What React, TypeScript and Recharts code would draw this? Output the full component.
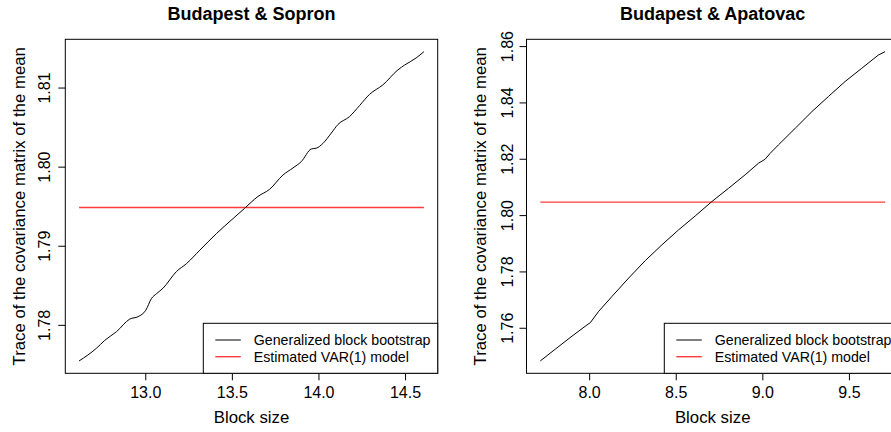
import React from "react";
import { LineChart, Line, XAxis, YAxis, Label } from "recharts";

// Budapest & Sopron
const sopronBlockSize = [
  12.615, 12.715, 12.763, 12.831, 12.908, 12.956, 13.0, 13.033, 13.062, 13.1,
  13.177, 13.235, 13.312, 13.408, 13.504, 13.571, 13.648, 13.715, 13.792, 13.85,
  13.898, 13.956, 13.985, 14.023, 14.071, 14.11, 14.177, 14.235, 14.292, 14.369,
  14.456, 14.494, 14.561, 14.606,
];
const sopronTrace = [
  1.7755, 1.7771, 1.7781, 1.7792, 1.7808, 1.7811, 1.7819, 1.7834, 1.784, 1.7847,
  1.7868, 1.7878, 1.7895, 1.7916, 1.7935, 1.7948, 1.7963, 1.7972, 1.799, 1.7999,
  1.8007, 1.8023, 1.8024, 1.803, 1.8043, 1.8054, 1.8064, 1.8078, 1.8092, 1.8104,
  1.8123, 1.8129, 1.8138, 1.8146,
];
const sopronVar = 1.7949;
const sopronXTicks = [13.0, 13.5, 14.0, 14.5];
const sopronYTicks = [1.78, 1.79, 1.8, 1.81];

// Budapest & Apatovac
const apatovacBlockSize = [
  7.715, 7.802, 7.898, 7.985, 8.004, 8.052, 8.129, 8.225, 8.321, 8.417, 8.513,
  8.61, 8.706, 8.802, 8.898, 8.975, 9.013, 9.042, 9.09, 9.187, 9.283, 9.379,
  9.475, 9.571, 9.667, 9.706,
];
const apatovacTrace = [
  1.7484, 1.7526, 1.7572, 1.7612, 1.762, 1.766, 1.7713, 1.7778, 1.784, 1.7896,
  1.7949, 1.7999, 1.805, 1.8097, 1.8145, 1.8186, 1.82, 1.8221, 1.8251, 1.831,
  1.8369, 1.8423, 1.8476, 1.8523, 1.857, 1.8582,
];
const apatovacVar = 1.8048;
const apatovacXTicks = [8.0, 8.5, 9.0, 9.5];
const apatovacYTicks = [1.76, 1.78, 1.8, 1.82, 1.84, 1.86];

const seriesNames = ["Generalized block bootstrap", "Estimated VAR(1) model"];

const FONT = '"Liberation Sans", Arial, Helvetica, sans-serif';
const HEIGHT = 432;
const PLOT_TOP = 39.3;
const PLOT_BOTTOM = 373.3;
const PLOT_WIDTH = 372.4;
const VAR_RED = "#ff3b3b";

// R default axis style: 4% padding around the data range
const padded = (vals: number[]): [number, number] => {
  const lo = Math.min(...vals);
  const hi = Math.max(...vals);
  const p = (hi - lo) * 0.04;
  return [lo - p, hi + p];
};

interface PanelProps {
  title: string;
  blockSize: number[];
  trace: number[];
  varValue: number;
  xTicks: number[];
  yTicks: number[];
  left: number;
  width: number;
  plotLeft: number;
  tickGap: number;
  yTitleX: number;
  legendLeft: number;
  curve: "monotone" | "linear";
}

function Panel(props: PanelProps) {
  const { title, blockSize, trace, varValue, xTicks, yTicks, left, width, plotLeft, tickGap, yTitleX, legendLeft, curve } = props;
  const data = blockSize.map((x, i) => ({ x, y: trace[i] }));
  const varData = [
    { x: blockSize[0], v: varValue },
    { x: blockSize[blockSize.length - 1], v: varValue },
  ];
  const plotRight = plotLeft + PLOT_WIDTH;
  const cx = plotLeft + PLOT_WIDTH / 2;

  const xTick = ({ x, y, payload }: any) => (
    <text x={x} y={y + 15.4} textAnchor="middle" fontSize={16} fontFamily={FONT} fill="#000">
      {payload.value.toFixed(1)}
    </text>
  );
  const yTick = ({ y, payload }: any) => (
    <text
      transform={`translate(${plotLeft - tickGap},${y}) rotate(-90)`}
      textAnchor="middle"
      fontSize={16}
      fontFamily={FONT}
      fill="#000"
    >
      {payload.value.toFixed(2)}
    </text>
  );

  return (
    <div style={{ position: "absolute", left, top: 0, width, height: HEIGHT }}>
      <LineChart
        width={width}
        height={HEIGHT}
        data={data}
        margin={{ top: PLOT_TOP, right: width - plotRight, bottom: 0, left: 0 }}
      >
        <XAxis
          type="number"
          dataKey="x"
          domain={padded(blockSize)}
          allowDataOverflow
          ticks={xTicks}
          tick={xTick}
          tickSize={7}
          tickMargin={2}
          tickLine={{ stroke: "#000" }}
          axisLine={false}
          height={HEIGHT - PLOT_BOTTOM}
        >
          <Label
            content={() => (
              <text x={cx} y={423.3} textAnchor="middle" fontSize={16.8} fontFamily={FONT} fill="#000">
                Block size
              </text>
            )}
          />
        </XAxis>
        <YAxis
          type="number"
          domain={padded(trace)}
          allowDataOverflow
          ticks={yTicks}
          tick={yTick}
          tickSize={7}
          tickMargin={2}
          tickLine={{ stroke: "#000" }}
          axisLine={false}
          width={plotLeft}
        >
          <Label
            content={() => (
              <text
                transform={`translate(${yTitleX},${(PLOT_TOP + PLOT_BOTTOM) / 2}) rotate(-90)`}
                textAnchor="middle"
                fontSize={16.8}
                fontFamily={FONT}
                fill="#000"
              >
                Trace of the covariance matrix of the mean
              </text>
            )}
          />
        </YAxis>
        <Line
          data={varData}
          dataKey="v"
          type="linear"
          stroke={VAR_RED}
          strokeWidth={1.4}
          dot={false}
          isAnimationActive={false}
        />
        <Line
          dataKey="y"
          type={curve}
          stroke="#000"
          strokeWidth={1}
          dot={false}
          isAnimationActive={false}
        />
      </LineChart>
      <svg
        width={width}
        height={HEIGHT}
        style={{ position: "absolute", left: 0, top: 0, pointerEvents: "none" }}
        fontFamily={FONT}
      >
        <text x={cx} y={20.2} textAnchor="middle" fontSize={18} fontWeight="bold" fill="#000">
          {title}
        </text>
        <rect
          x={plotLeft}
          y={PLOT_TOP}
          width={PLOT_WIDTH}
          height={PLOT_BOTTOM - PLOT_TOP}
          fill="none"
          stroke="#000"
          strokeWidth={1}
        />
        <rect
          x={legendLeft}
          y={323.3}
          width={plotRight - legendLeft}
          height={PLOT_BOTTOM - 323.3}
          fill="#fff"
          stroke="#000"
          strokeWidth={1}
        />
        <line x1={legendLeft + 12} x2={legendLeft + 37.5} y1={340} y2={340} stroke="#000" strokeWidth={1} />
        <line x1={legendLeft + 12} x2={legendLeft + 37.5} y1={356.7} y2={356.7} stroke={VAR_RED} strokeWidth={1.4} />
        <text x={legendLeft + 50.5} y={345} fontSize={14.2} fill="#000">
          {seriesNames[0]}
        </text>
        <text x={legendLeft + 50.5} y={361.7} fontSize={14.2} fill="#000">
          {seriesNames[1]}
        </text>
      </svg>
    </div>
  );
}

export default function App() {
  return (
    <div
      style={{
        position: "absolute",
        left: 0,
        top: 0,
        width: 891,
        height: HEIGHT,
        overflow: "hidden",
        background: "#fff",
      }}
    >
      <Panel
        title="Budapest & Sopron"
        blockSize={sopronBlockSize}
        trace={sopronTrace}
        varValue={sopronVar}
        xTicks={sopronXTicks}
        yTicks={sopronYTicks}
        left={0}
        width={445}
        plotLeft={65.3}
        tickGap={15}
        yTitleX={25}
        legendLeft={203.3}
        curve="monotone"
      />
      <Panel
        title="Budapest & Apatovac"
        blockSize={apatovacBlockSize}
        trace={apatovacTrace}
        varValue={apatovacVar}
        xTicks={apatovacXTicks}
        yTicks={apatovacYTicks}
        left={446}
        width={460}
        plotLeft={80.5}
        tickGap={13.5}
        yTitleX={40}
        legendLeft={218.3}
        curve="linear"
      />
    </div>
  );
}
